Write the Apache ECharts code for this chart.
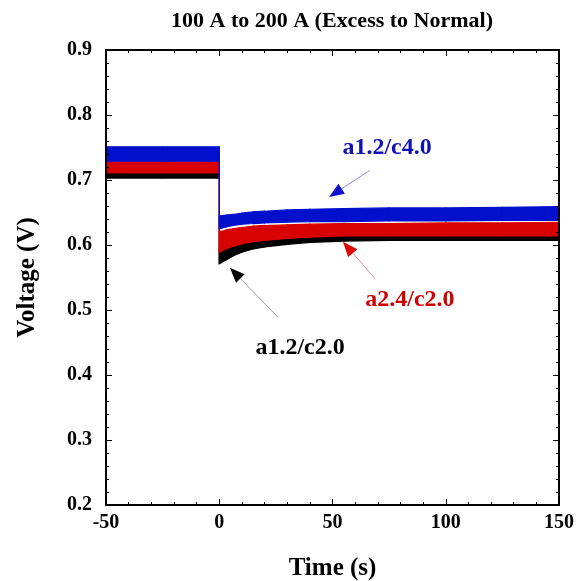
<!DOCTYPE html>
<html><head><meta charset="utf-8">
<script src="https://cdn.jsdelivr.net/npm/echarts@6/dist/echarts.min.js"></script>
<style>html,body{margin:0;padding:0;background:#fff}#c{width:580px;height:581px}</style>
</head><body><div id="c"></div>
<script>
// Time (s)
const times = [-50, -25, 0, 0, 1, 3, 6, 10, 15, 20, 30, 40, 55, 75, 100, 125, 150];
// a1.2/c4.0 (blue) envelope
const blueLower = [0.729, 0.729, 0.729, 0.625, 0.626, 0.628, 0.630, 0.632, 0.633, 0.634, 0.635, 0.636, 0.636, 0.637, 0.637, 0.638, 0.638];
const blueUpper = [0.751, 0.751, 0.751, 0.645, 0.645, 0.646, 0.647, 0.649, 0.651, 0.652, 0.654, 0.655, 0.656, 0.657, 0.657, 0.658, 0.659];
// a2.4/c2.0 (red) envelope
const redLower = [0.711, 0.711, 0.711, 0.589, 0.591, 0.594, 0.598, 0.602, 0.605, 0.607, 0.610, 0.612, 0.614, 0.614, 0.614, 0.614, 0.614];
const redUpper = [0.728, 0.728, 0.728, 0.621, 0.621, 0.623, 0.625, 0.627, 0.629, 0.630, 0.631, 0.632, 0.633, 0.633, 0.634, 0.634, 0.635];
// a1.2/c2.0 (black) envelope
const blackLower = [0.703, 0.703, 0.703, 0.571, 0.573, 0.577, 0.583, 0.589, 0.594, 0.597, 0.601, 0.604, 0.606, 0.607, 0.607, 0.607, 0.607];
const blackUpper = [0.716, 0.716, 0.716, 0.595, 0.597, 0.600, 0.604, 0.608, 0.611, 0.613, 0.616, 0.618, 0.620, 0.620, 0.620, 0.620, 0.620];

const seriesNames = ['a1.2/c2.0', 'a2.4/c2.0', 'a1.2/c4.0'];
const seriesColors = ['#000000', '#d80000', '#0010cc'];
const yTicks = [0.2, 0.3, 0.4, 0.5, 0.6, 0.7, 0.8, 0.9];
const xTicks = [-50, 0, 50, 100, 150];

// annotations: text, text position (t,v), arrow tail (t,v), arrow tip (t,v)
const annTexts = ['a1.2/c4.0', 'a2.4/c2.0', 'a1.2/c2.0'];
const annTextPos = [[74.1, 0.749], [84.2, 0.515], [35.7, 0.442]];
const annTail = [[66.6, 0.715], [68.8, 0.548], [25.9, 0.489]];
const annTip = [[48.5, 0.674], [54.6, 0.605], [4.7, 0.565]];
const annTextColors = ['#1010b8', '#d00000', '#000000'];
const annLineColors = ['#8c8ce8', '#f08a8a', '#a0a0a0'];
const annHeadColors = ['#1010c8', '#e00000', '#000000'];

const FONT = '"Liberation Serif", "Times New Roman", serif';
const chart = echarts.init(document.getElementById('c'));

function segRows(xs, lo, hi) {
  const rows = [];
  for (let i = 0; i < xs.length - 1; i++) rows.push([xs[i], xs[i + 1], lo[i], lo[i + 1], hi[i], hi[i + 1]]);
  return rows;
}

const bands = [[blackLower, blackUpper], [redLower, redUpper], [blueLower, blueUpper]];
const series = bands.map((b, k) => ({
  name: seriesNames[k], type: 'custom', silent: true, z: 2 + k,
  data: segRows(times, b[0], b[1]),
  encode: { x: [0, 1], y: [2, 3, 4, 5] },
  renderItem: function (params, api) {
    const t0 = api.value(0), t1 = api.value(1);
    const p = [
      api.coord([t0, api.value(2)]), api.coord([t1, api.value(3)]),
      api.coord([t1, api.value(5)]), api.coord([t0, api.value(4)])
    ];
    return {
      type: 'polygon', shape: { points: p },
      style: { fill: seriesColors[k], stroke: seriesColors[k], lineWidth: 1.2 }
    };
  }
}));

const axisCommon = {
  z: 10,
  axisLine: { show: true, onZero: false, lineStyle: { color: '#000', width: 2 } },
  axisTick: { show: true, inside: true, length: 6, lineStyle: { color: '#000', width: 1 } },
  minorTick: { show: true, splitNumber: 5, length: 3, lineStyle: { color: '#000', width: 1 } },
  splitLine: { show: false }
};

chart.setOption({
  animation: false,
  backgroundColor: '#fff',
  title: {
    text: '100 A to 200 A (Excess to Normal)', left: 166, top: 5,
    textStyle: { fontFamily: FONT, fontWeight: 'bold', fontSize: 22, color: '#000' }
  },
  grid: { left: 106, right: 21, top: 50, bottom: 76, containLabel: false, outerBoundsMode: 'none' },
  xAxis: [
    Object.assign({
      type: 'value', min: xTicks[0], max: xTicks[xTicks.length - 1], interval: 50, position: 'bottom',
      name: 'Time (s)', nameLocation: 'middle', nameGap: 51,
      nameTextStyle: { fontFamily: FONT, fontWeight: 'bold', fontSize: 25, color: '#000' },
      axisLabel: { fontFamily: FONT, fontWeight: 'bold', fontSize: 20, color: '#000', margin: 8 }
    }, axisCommon),
    Object.assign({
      type: 'value', min: xTicks[0], max: xTicks[xTicks.length - 1], interval: 50, position: 'top',
      axisLabel: { show: false }
    }, axisCommon)
  ],
  yAxis: [
    Object.assign({
      type: 'value', min: yTicks[0], max: yTicks[yTicks.length - 1], interval: 0.1, position: 'left',
      name: 'Voltage (V)', nameLocation: 'middle', nameGap: 66, nameRotate: 90,
      nameTextStyle: { fontFamily: FONT, fontWeight: 'bold', fontSize: 25, color: '#000' },
      axisLabel: { fontFamily: FONT, fontWeight: 'bold', fontSize: 20, color: '#000', margin: 14,
        formatter: v => v.toFixed(1) }
    }, axisCommon),
    Object.assign({
      type: 'value', min: yTicks[0], max: yTicks[yTicks.length - 1], interval: 0.1, position: 'right',
      axisLabel: { show: false }
    }, axisCommon)
  ],
  series: series
});

// annotations placed from data coordinates
const graphics = [];
annTexts.forEach((txt, i) => {
  const p = chart.convertToPixel({ xAxisIndex: 0, yAxisIndex: 0 }, annTextPos[i]);
  const a = chart.convertToPixel({ xAxisIndex: 0, yAxisIndex: 0 }, annTail[i]);
  const b = chart.convertToPixel({ xAxisIndex: 0, yAxisIndex: 0 }, annTip[i]);
  const dx = b[0] - a[0], dy = b[1] - a[1];
  const L = Math.sqrt(dx * dx + dy * dy), ux = dx / L, uy = dy / L;
  const hl = 15, hw = 6;
  const bx = b[0] - ux * hl, by = b[1] - uy * hl;
  graphics.push({ type: 'line', shape: { x1: a[0], y1: a[1], x2: bx, y2: by },
    style: { stroke: annLineColors[i], lineWidth: 1 }, z: 20 });
  graphics.push({ type: 'polygon', shape: { points: [[b[0], b[1]], [bx - uy * hw, by + ux * hw], [bx + uy * hw, by - ux * hw]] },
    style: { fill: annHeadColors[i] }, z: 20 });
  graphics.push({ type: 'text', x: p[0], y: p[1],
    style: { text: txt, fill: annTextColors[i], font: 'bold 24px ' + FONT, textAlign: 'center', textVerticalAlign: 'middle' }, z: 20 });
});
chart.setOption({ graphic: graphics });
</script>
</body></html>
